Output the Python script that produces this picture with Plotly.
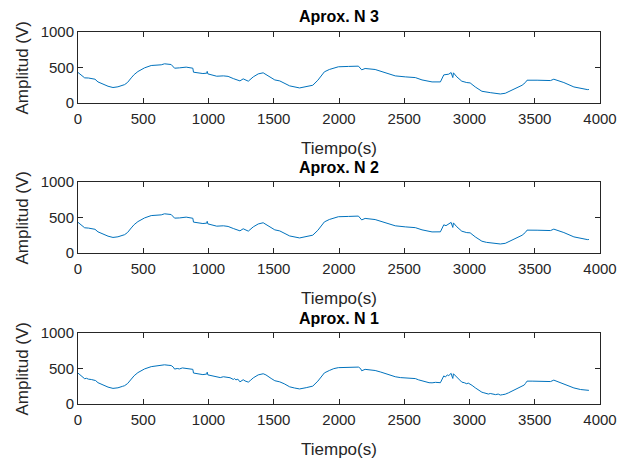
import plotly.graph_objects as go

# ---- data ----
t_n3 = [0, 25, 51, 80, 102, 130, 153, 190, 230, 268, 306, 357, 380, 408, 430, 459, 510, 561, 638, 663,
        700, 714, 740, 760, 778, 829, 867, 880, 885, 920, 957, 987, 990, 995, 1063, 1114, 1150, 1190, 1241, 1266,
        1305, 1343, 1381, 1419, 1457, 1508, 1546, 1622, 1698, 1749, 1799, 1838, 1888, 1926, 1995, 2072, 2149, 2174, 2200, 2277,
        2354, 2431, 2508, 2585, 2636, 2713, 2777, 2803, 2841, 2859, 2872, 2877, 2903, 2941, 2979, 3005, 3044, 3095, 3159, 3236,
        3274, 3338, 3403, 3428, 3441, 3518, 3621, 3646, 3723, 3800, 3851, 3903, 3915]
v_n3 = [430, 395, 354, 352, 340, 335, 297, 265, 236, 218, 228, 259, 290, 354, 400, 443, 495, 528, 538, 552,
        548, 542, 490, 497, 495, 505, 500, 490, 434, 425, 415, 420, 445, 410, 377, 382, 375, 344, 311, 340,
        307, 368, 410, 425, 382, 325, 311, 241, 212, 231, 250, 321, 439, 472, 510, 515, 519, 467, 486, 472,
        429, 382, 368, 358, 325, 297, 297, 396, 406, 429, 358, 425, 368, 307, 288, 283, 226, 165, 146, 127,
        137, 193, 250, 288, 321, 321, 316, 335, 288, 226, 203, 189, 190]

t_n2 = [0, 20, 35, 51, 80, 102, 130, 153, 190, 230, 268, 306, 357, 380, 408, 430, 459, 510, 561, 638,
        663, 700, 714, 740, 760, 778, 829, 867, 880, 885, 920, 957, 987, 990, 995, 1063, 1114, 1150, 1190, 1210,
        1241, 1266, 1285, 1305, 1343, 1381, 1419, 1457, 1508, 1546, 1622, 1698, 1749, 1799, 1838, 1888, 1926, 1995, 2072, 2149,
        2174, 2200, 2277, 2354, 2431, 2508, 2585, 2636, 2690, 2713, 2777, 2803, 2820, 2841, 2859, 2872, 2877, 2903, 2925, 2941,
        2979, 3005, 3044, 3095, 3130, 3159, 3200, 3236, 3274, 3338, 3403, 3428, 3441, 3518, 3621, 3646, 3723, 3800, 3851, 3903,
        3915]
v_n2 = [432, 398, 370, 355, 351, 342, 334, 298, 266, 237, 219, 228, 258, 289, 353, 399, 442, 494, 527, 537,
        552, 547, 542, 491, 498, 494, 505, 500, 489, 435, 424, 415, 421, 446, 410, 378, 383, 374, 345, 332,
        312, 341, 322, 308, 368, 409, 426, 383, 326, 311, 240, 212, 231, 251, 320, 438, 472, 511, 515, 520,
        466, 487, 471, 430, 383, 368, 357, 326, 302, 297, 298, 397, 385, 407, 431, 360, 424, 369, 330, 307,
        287, 284, 227, 166, 150, 146, 135, 127, 136, 193, 250, 289, 322, 321, 316, 336, 288, 227, 203, 189,
        190]

t_n1 = [0, 20, 35, 51, 65, 80, 102, 120, 135, 153, 190, 230, 268, 306, 340, 357, 380, 408, 430, 459,
        510, 561, 600, 638, 663, 690, 714, 730, 740, 760, 778, 800, 829, 867, 880, 885, 920, 957, 987, 990,
        995, 1030, 1063, 1090, 1114, 1140, 1165, 1190, 1200, 1210, 1225, 1241, 1255, 1266, 1280, 1305, 1320, 1343, 1381, 1419,
        1440, 1457, 1480, 1508, 1530, 1546, 1580, 1622, 1660, 1698, 1749, 1799, 1838, 1888, 1926, 1960, 1995, 2072, 2110, 2149,
        2165, 2174, 2200, 2240, 2277, 2320, 2354, 2380, 2400, 2431, 2470, 2508, 2540, 2585, 2610, 2636, 2660, 2690, 2713, 2740,
        2777, 2790, 2803, 2815, 2830, 2841, 2859, 2865, 2872, 2877, 2890, 2903, 2915, 2925, 2941, 2960, 2979, 2990, 3005, 3020,
        3044, 3060, 3075, 3095, 3110, 3130, 3145, 3159, 3180, 3200, 3220, 3236, 3255, 3274, 3300, 3338, 3360, 3380, 3403, 3420,
        3428, 3441, 3480, 3518, 3560, 3621, 3646, 3680, 3723, 3760, 3800, 3851, 3903, 3915]
v_n1 = [435, 400, 372, 356, 362, 350, 345, 338, 330, 300, 266, 238, 220, 228, 248, 258, 288, 352, 398, 442,
        494, 526, 534, 538, 552, 546, 542, 520, 492, 500, 494, 508, 504, 500, 488, 436, 424, 414, 422, 448,
        410, 396, 380, 372, 384, 376, 370, 346, 358, 340, 350, 312, 336, 342, 325, 308, 330, 368, 410, 426,
        410, 384, 360, 328, 318, 312, 285, 242, 225, 212, 230, 252, 322, 438, 472, 498, 512, 515, 512, 520,
        500, 468, 488, 480, 472, 450, 430, 415, 402, 384, 372, 368, 362, 358, 340, 326, 318, 300, 298, 305,
        300, 340, 396, 380, 410, 400, 432, 395, 360, 426, 400, 370, 350, 325, 308, 300, 285, 295, 280, 262,
        228, 205, 185, 166, 158, 150, 140, 148, 138, 132, 140, 126, 132, 138, 158, 194, 212, 230, 248, 268,
        288, 322, 322, 320, 322, 316, 336, 312, 288, 256, 226, 204, 190, 192]

titles = ["Aprox. N 3", "Aprox. N 2", "Aprox. N 1"]
x_ticks = [0, 500, 1000, 1500, 2000, 2500, 3000, 3500, 4000]
y_ticks = [0, 500, 1000]
x_label = "Tiempo(s)"
y_label = "Amplitud (V)"

# ---- layout geometry (pixels) ----
W, H = 618, 459
x0, x1 = 78, 600
rows = [(32, 103), (182, 253), (333, 404)]
AX = "#262626"
LINE = "#0072BD"
FONT = "Liberation Sans, Arial, Helvetica, sans-serif"

fig = go.Figure()
series = [(t_n3, v_n3), (t_n2, v_n2), (t_n1, v_n1)]
layout = dict(
    width=W, height=H, margin=dict(l=0, r=0, t=0, b=0, autoexpand=False),
    paper_bgcolor="white", plot_bgcolor="white", showlegend=False,
    font=dict(family=FONT, color=AX, size=15),
)
annotations = []
for i, ((tt, vv), (ytop, ybot)) in enumerate(zip(series, rows)):
    k = "" if i == 0 else str(i + 1)
    fig.add_trace(go.Scatter(x=tt, y=vv, mode="lines", line=dict(color=LINE, width=1),
                             xaxis="x" + k, yaxis="y" + k, hoverinfo="skip"))
    common = dict(showline=True, linecolor=AX, linewidth=1, mirror="ticks", ticks="inside",
                  ticklen=5, tickcolor=AX, showgrid=False, zeroline=False, automargin=False,
                  tickfont=dict(family=FONT, size=15, color=AX))
    layout["xaxis" + k] = dict(domain=[x0 / W, x1 / W], anchor="y" + k, range=[0, 4000],
                               tickvals=x_ticks, ticktext=[str(v) for v in x_ticks],
                               ticklabelstandoff=2, **common)
    layout["yaxis" + k] = dict(domain=[1 - ybot / H, 1 - ytop / H], anchor="x" + k, range=[0, 1000],
                               tickvals=y_ticks, ticktext=[str(v) for v in y_ticks], **common)
    cx = (x0 + x1) / 2 / W
    annotations.append(dict(text="<b>" + titles[i] + "</b>", x=cx, y=1 - (ytop - 15) / H,
                            xref="paper", yref="paper", showarrow=False, yanchor="middle",
                            font=dict(family=FONT, size=16, color="black")))
    annotations.append(dict(text=x_label, x=cx, y=1 - (ybot + 45) / H, xref="paper", yref="paper",
                            showarrow=False, yanchor="middle", font=dict(family=FONT, size=17, color=AX)))
    annotations.append(dict(text=y_label, x=22 / W, y=1 - (ytop + ybot) / 2 / H, xref="paper", yref="paper",
                            showarrow=False, textangle=-90, xanchor="center", yanchor="middle",
                            font=dict(family=FONT, size=17, color=AX)))
layout["annotations"] = annotations
fig.update_layout(**layout)
fig.write_html("out.html")
